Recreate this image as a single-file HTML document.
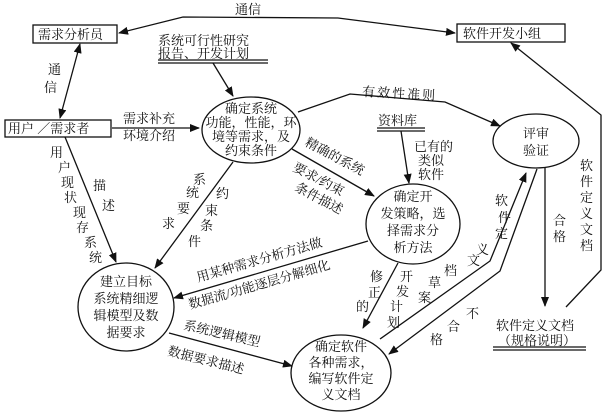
<!DOCTYPE html>
<html><head><meta charset="utf-8"><style>
html,body{margin:0;padding:0;background:#fff;}
svg{display:block;}
text{font-family:"Liberation Serif","Noto Serif CJK SC",serif;font-size:13px;fill:#111;}
</style></head><body>
<svg width="606" height="416" viewBox="0 0 606 416" xmlns="http://www.w3.org/2000/svg">
<defs>
<marker id="a" markerWidth="10" markerHeight="8" refX="9" refY="4" orient="auto" markerUnits="userSpaceOnUse">
<path d="M0,0 L10,4 L0,8 Z" fill="#111"/></marker>
<marker id="s" markerWidth="10" markerHeight="8" refX="1" refY="4" orient="auto" markerUnits="userSpaceOnUse">
<path d="M10,0 L0,4 L10,8 Z" fill="#111"/></marker>
</defs>
<g stroke="#111" stroke-width="1.3" fill="none">
<rect x="33" y="25" width="84" height="18"/>
<rect x="457" y="24" width="108" height="18"/>
<rect x="5" y="120" width="106" height="17"/>
<ellipse cx="251" cy="130" rx="49" ry="33"/>
<ellipse cx="536" cy="141" rx="43" ry="27"/>
<ellipse cx="413" cy="224" rx="47" ry="40"/>
<ellipse cx="126" cy="307" rx="48" ry="44"/>
<ellipse cx="341" cy="373" rx="50" ry="38"/>
<polyline points="455,33 338,18 183,17 119,33" marker-end="url(#a)" marker-start="url(#s)"/>
<line x1="80" y1="44" x2="60" y2="118" marker-start="url(#s)" marker-end="url(#a)"/>
<line x1="213" y1="63" x2="233" y2="96" marker-end="url(#a)"/>
<line x1="112" y1="128" x2="199" y2="128" marker-end="url(#a)"/>
<polyline points="298,112 350,94 445,102 500,126" marker-end="url(#a)"/>
<line x1="401" y1="131" x2="409" y2="183" marker-end="url(#a)"/>
<polyline points="566,307 601,270 601,115 511,43" marker-end="url(#a)"/>
<line x1="545" y1="168" x2="545" y2="306" marker-end="url(#a)"/>
<line x1="292" y1="149" x2="374" y2="196" marker-end="url(#a)"/>
<line x1="233" y1="162" x2="155" y2="268" marker-end="url(#a)"/>
<line x1="65" y1="137" x2="116" y2="262" marker-end="url(#a)"/>
<line x1="368" y1="241" x2="174" y2="298" marker-end="url(#a)"/>
<line x1="169" y1="333" x2="292" y2="366" marker-end="url(#a)"/>
<line x1="398" y1="263" x2="363" y2="328" marker-end="url(#a)"/>
<polyline points="380,339 490,261 526,173" marker-end="url(#a)"/>
<polyline points="537,169 500,271 389,354" marker-end="url(#a)"/>
<line x1="158" y1="60" x2="268" y2="60"/><line x1="158" y1="63" x2="268" y2="63"/>
<line x1="377" y1="128" x2="425" y2="128"/><line x1="377" y1="131" x2="425" y2="131"/>
<line x1="493" y1="347" x2="586" y2="347"/><line x1="493" y1="350" x2="586" y2="350"/>
</g>
<g>
<text x="235" y="14">通信</text>
<text x="38" y="39">需求分析员</text>
<text x="463" y="38">软件开发小组</text>
<text x="8" y="133">用户 ／需求者</text>
<text x="48" y="74">通</text><text x="44" y="92">信</text>
<text x="158" y="45">系统可行性研究</text>
<text x="158" y="58">报告、开发计划</text>
<text x="123" y="123">需求补充</text>
<text x="123" y="140">环境介绍</text>
<text x="251" y="113" text-anchor="middle">确定系统</text>
<text x="251" y="127" text-anchor="middle">功能，性能，环</text>
<text x="251" y="141" text-anchor="middle">境等需求，及</text>
<text x="251" y="155" text-anchor="middle">约束条件</text>
<text x="362" y="96" transform="rotate(3 362 96)" letter-spacing="2">有效性准则</text>
<text x="378" y="125">资料库</text>
<text x="414" y="151">已有的</text>
<text x="418" y="165">类似</text>
<text x="418" y="179">软件</text>
<text x="536" y="138" text-anchor="middle">评审</text>
<text x="536" y="155" text-anchor="middle">验证</text>
<text x="580" y="170">软</text><text x="580" y="186">件</text><text x="580" y="202">定</text><text x="580" y="218">义</text><text x="580" y="234">文</text><text x="580" y="250">档</text>
<text x="553" y="225">合</text><text x="553" y="241">格</text>
<text x="496" y="330">软件定义文档</text>
<text x="498" y="345">（规格说明）</text>
<text x="413" y="201" text-anchor="middle">确定开</text>
<text x="413" y="218" text-anchor="middle">发策略，选</text>
<text x="413" y="235" text-anchor="middle">择需求分</text>
<text x="413" y="252" text-anchor="middle">析方法</text>
<text x="304" y="145" transform="rotate(28 304 145)">精确的系统</text>
<text x="292" y="170" transform="rotate(28 292 170)">要求/约束</text>
<text x="294" y="190" transform="rotate(28 294 190)">条件描述</text>
<text x="193" y="184">系</text><text x="186" y="197">统</text><text x="177" y="213">要</text><text x="162" y="228">求</text>
<text x="216" y="198">约</text><text x="205" y="215">束</text><text x="200" y="230">条</text><text x="188" y="246">件</text>
<text x="50" y="157">用</text><text x="58" y="172">户</text><text x="61" y="187">现</text><text x="64" y="202">状</text><text x="73" y="217">现</text><text x="76" y="232">存</text><text x="84" y="247">系</text><text x="89" y="262">统</text>
<text x="93" y="190">描</text><text x="102" y="210">述</text>
<text x="126" y="286" text-anchor="middle">建立目标</text>
<text x="126" y="303" text-anchor="middle">系统精细逻</text>
<text x="126" y="320" text-anchor="middle">辑模型及数</text>
<text x="126" y="337" text-anchor="middle">据要求</text>
<text x="198" y="282" transform="rotate(-16 198 282)">用某种需求分析方法做</text>
<text x="190" y="309" transform="rotate(-16 190 309)">数据流/功能逐层分解细化</text>
<text x="183" y="329" transform="rotate(13 183 329)">系统逻辑模型</text>
<text x="167" y="355" transform="rotate(14 167 355)">数据要求描述</text>
<text x="341" y="351" text-anchor="middle">确定软件</text>
<text x="341" y="367" text-anchor="middle">各种需求，</text>
<text x="341" y="383" text-anchor="middle">编写软件定</text>
<text x="341" y="399" text-anchor="middle">义文档</text>
<text x="370" y="281">修</text><text x="368" y="297">正</text><text x="356" y="311">的</text>
<text x="400" y="281">开</text><text x="396" y="296">发</text><text x="390" y="311">计</text><text x="387" y="327">划</text>
<text x="495" y="205">软</text><text x="498" y="222">件</text><text x="495" y="238">定</text><text x="476" y="254">义</text><text x="467" y="265">文</text><text x="444" y="275">档</text><text x="428" y="287">草</text><text x="418" y="302">案</text>
<text x="466" y="318">不</text><text x="447" y="331">合</text><text x="430" y="344">格</text>
</g>
</svg>
</body></html>
